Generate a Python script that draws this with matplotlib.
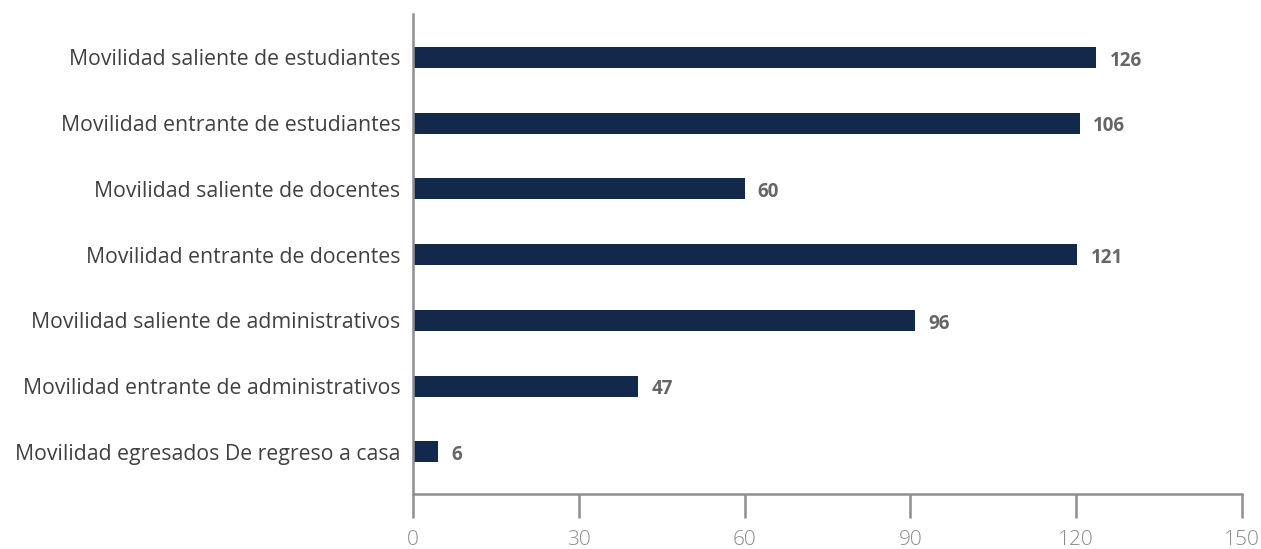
import matplotlib.pyplot as plt

categories = [
    "Movilidad saliente de estudiantes",
    "Movilidad entrante de estudiantes",
    "Movilidad saliente de docentes",
    "Movilidad entrante de docentes",
    "Movilidad saliente de administrativos",
    "Movilidad entrante de administrativos",
    "Movilidad egresados De regreso a casa",
]
# bar lengths as drawn in the picture
bar_lengths = [123.6, 120.6, 60, 120.2, 90.8, 40.8, 4.5]
# numbers written next to the bars
value_labels = ["126", "106", "60", "121", "96", "47", "6"]
xticks = [0, 30, 60, 90, 120, 150]

plt.rcParams['font.family'] = ['Open Sans', 'DejaVu Sans']

fig = plt.figure(figsize=(12.61, 5.49), dpi=100)
ax = fig.add_axes([413 / 1261, 55 / 549, 829 / 1261, 480 / 549])

n = len(categories)
ypos = [n - 1 - i for i in range(n)]
ax.barh(ypos, bar_lengths, height=0.32, color='#13294b')

for y, v, lab in zip(ypos, bar_lengths, value_labels):
    ax.text(v + 2.4, y - 0.05, lab, va='center', ha='left',
            fontsize=13.5, fontweight='bold', color='#666666')

ax.set_xlim(0, 150)
ax.set_ylim(-0.64, n - 1 + 0.66)
ax.set_yticks(ypos)
ax.set_yticklabels(categories, fontsize=15.3, color='#404040')
ax.tick_params(axis='y', length=0, pad=9)
ax.set_xticks(xticks)
ax.set_xticklabels([str(t) for t in xticks], fontsize=15, color='#8a8a8a',
                   fontweight='light')
ax.tick_params(axis='x', length=17, width=1.8, color='#8f8f8f', pad=9)

for s in ['top', 'right']:
    ax.spines[s].set_visible(False)
for s in ['left', 'bottom']:
    ax.spines[s].set_color('#8f8f8f')
    ax.spines[s].set_linewidth(1.8)

fig.savefig('out.png', dpi=100)
